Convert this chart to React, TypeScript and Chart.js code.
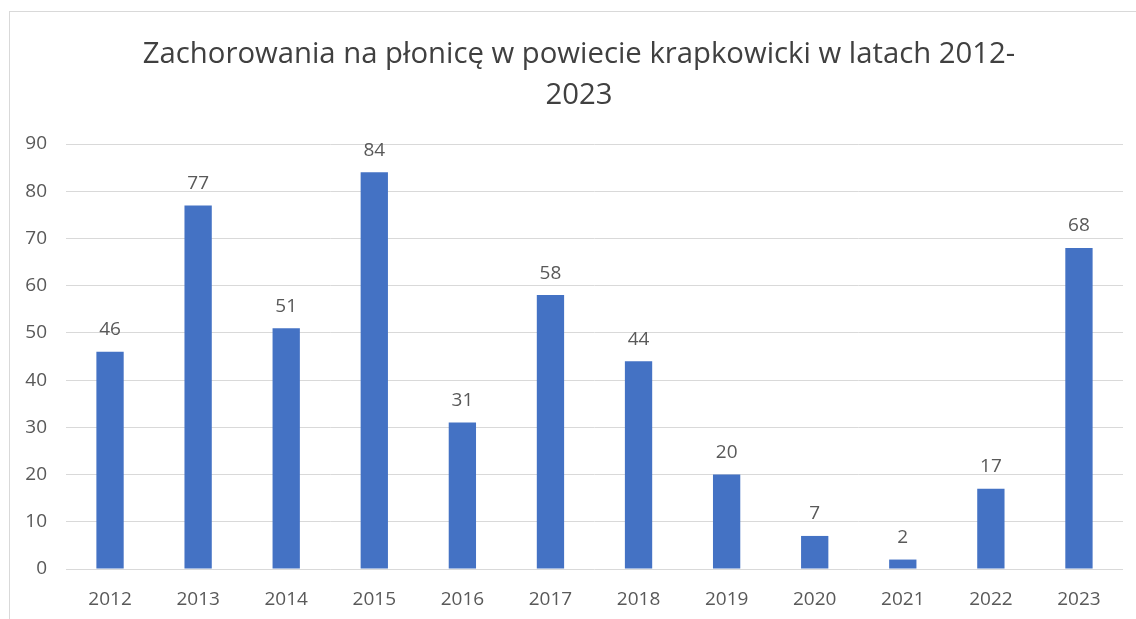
import React, { useEffect, useRef } from "react";
import { Chart, registerables } from "chart.js";

Chart.register(...registerables);

const years = ["2012", "2013", "2014", "2015", "2016", "2017", "2018", "2019", "2020", "2021", "2022", "2023"];
const cases = [46, 77, 51, 84, 31, 58, 44, 20, 7, 2, 17, 68];
const titleLines = ["Zachorowania na płonicę w powiecie krapkowicki w latach 2012-", "2023"];

const FONT = "'Open Sans', 'Noto Sans', sans-serif";

export default function App() {
  const ref = useRef<HTMLCanvasElement | null>(null);
  useEffect(() => {
    if (!ref.current) return;
    const decor = {
      id: "decor",
      beforeDraw(chart: any) {
        const ctx = chart.ctx;
        ctx.save();
        ctx.fillStyle = "#ffffff";
        ctx.fillRect(0, 0, chart.width, chart.height);
        ctx.strokeStyle = "#d9d9d9";
        ctx.lineWidth = 1;
        ctx.strokeRect(9.5, 11.5, 1400, 900);
        ctx.restore();
      },
      afterDraw(chart: any) {
        const ctx = chart.ctx;
        ctx.save();
        ctx.fillStyle = "#404040";
        ctx.font = `29.3px ${FONT}`;
        ctx.textAlign = "center";
        ctx.textBaseline = "middle";
        ctx.fillText(titleLines[0], 579, 55);
        ctx.fillText(titleLines[1], 579, 96);
        // data labels
        ctx.fillStyle = "#595959";
        ctx.font = `19px ${FONT}`;
        const meta = chart.getDatasetMeta(0);
        meta.data.forEach((bar: any, i: number) => {
          ctx.fillText(String(cases[i]), bar.x, bar.y - 22);
        });
        ctx.restore();
      },
    };
    const chart = new Chart(ref.current, {
      type: "bar",
      data: {
        labels: years,
        datasets: [
          {
            data: cases,
            backgroundColor: "#4472C4",
            barPercentage: 0.31,
            categoryPercentage: 1,
          },
        ],
      },
      options: {
        animation: false,
        responsive: false,
        layout: { padding: { top: 144, right: 13, bottom: 0, left: 0 } },
        plugins: { legend: { display: false }, title: { display: false }, tooltip: { enabled: false } },
        scales: {
          x: {
            grid: { display: false, drawTicks: false },
            border: { display: false },
            ticks: { color: "#595959", font: { family: FONT, size: 19 }, padding: 19 },
            afterFit: (s: any) => { s.height = 50; },
          },
          y: {
            min: 0,
            max: 90,
            ticks: { stepSize: 10, color: "#595959", font: { family: FONT, size: 19 }, padding: 19 },
            grid: { color: "#d9d9d9", drawTicks: false, lineWidth: 1 },
            border: { display: false },
            afterFit: (s: any) => { s.width = 66; },
          },
        },
      },
      plugins: [decor],
    });
    return () => chart.destroy();
  }, []);
  return (
    <div style={{ position: "absolute", left: 0, top: 0, width: 1136, height: 619 }}>
      <canvas ref={ref} width={1136} height={619} />
    </div>
  );
}
